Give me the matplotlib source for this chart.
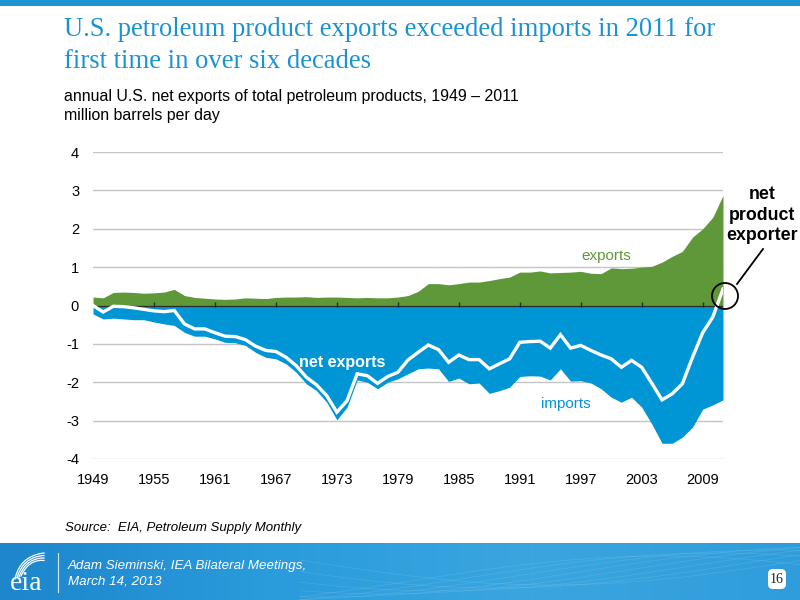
#!/usr/bin/env python
# -*- coding: utf-8 -*-

"""
U.S. petroleum product exports / imports / net exports, 1949-2011 (EIA slide).
"""

# Third party modules.
import numpy as np
import matplotlib
matplotlib.use("Agg")
import matplotlib.pyplot as plt
from matplotlib.patches import Ellipse, FancyBboxPatch, Rectangle
from matplotlib.lines import Line2D

# Globals and constants variables.
years = list(range(1949, 2012))

# million barrels per day
exports = [0.22, 0.20, 0.34, 0.35, 0.34, 0.32, 0.33, 0.35, 0.42, 0.26,
           0.21, 0.19, 0.17, 0.16, 0.17, 0.20, 0.19, 0.18, 0.21, 0.22,
           0.22, 0.23, 0.21, 0.22, 0.22, 0.21, 0.20, 0.21, 0.20, 0.20,
           0.22, 0.26, 0.37, 0.57, 0.57, 0.54, 0.57, 0.61, 0.61, 0.65,
           0.70, 0.74, 0.87, 0.87, 0.90, 0.85, 0.86, 0.87, 0.89, 0.84,
           0.83, 0.98, 0.96, 0.97, 1.00, 1.02, 1.13, 1.28, 1.41, 1.78,
           2.00, 2.30, 2.87]
imports = [0.22, 0.35, 0.33, 0.35, 0.37, 0.37, 0.43, 0.48, 0.52, 0.70,
           0.80, 0.80, 0.87, 0.96, 0.97, 1.04, 1.22, 1.35, 1.39, 1.52,
           1.74, 2.04, 2.22, 2.52, 2.98, 2.65, 1.94, 2.00, 2.17, 2.00,
           1.91, 1.78, 1.65, 1.63, 1.65, 1.98, 1.89, 2.04, 2.02, 2.29,
           2.22, 2.13, 1.85, 1.83, 1.84, 1.94, 1.65, 1.97, 1.96, 2.02,
           2.17, 2.39, 2.52, 2.39, 2.65, 3.09, 3.59, 3.59, 3.43, 3.17,
           2.70, 2.59, 2.46]
net_exports = [0.00, -0.17, -0.02, -0.03, -0.06, -0.10, -0.14, -0.16, -0.13, -0.48,
               -0.61, -0.61, -0.71, -0.80, -0.81, -0.89, -1.06, -1.17, -1.20, -1.35,
               -1.57, -1.87, -2.07, -2.35, -2.78, -2.48, -1.78, -1.83, -2.03, -1.85,
               -1.74, -1.42, -1.22, -1.03, -1.15, -1.48, -1.29, -1.41, -1.41, -1.65,
               -1.52, -1.39, -0.96, -0.94, -0.93, -1.11, -0.76, -1.11, -1.04, -1.17,
               -1.29, -1.39, -1.61, -1.43, -1.61, -2.03, -2.46, -2.30, -2.04, -1.35,
               -0.71, -0.30, 0.43]

tick_years = list(range(1949, 2012, 6))
y_ticks = [-4, -3, -2, -1, 0, 1, 2, 3, 4]

GREEN = "#5e9838"
BLUE = "#0096d6"
TITLE_BLUE = "#1b93d2"
SANS = ["Liberation Sans", "DejaVu Sans"]
SERIF = ["Liberation Serif", "DejaVu Serif"]

W, H = 800, 600


def fx(px):
    return px / W


def fy(py):
    return 1 - py / H


def draw_frame(fig):
    # background axes for slide decorations, pixel coordinates
    bg = fig.add_axes([0, 0, 1, 1], zorder=-5)

    # top strip
    bg.add_patch(Rectangle((0, 0), W, 6, color="#1a95d4", lw=0))

    # footer band with a horizontal gradient
    grad = np.linspace(0, 1, 256).reshape(1, -1)
    cmap = matplotlib.colors.LinearSegmentedColormap.from_list(
        "band", ["#1d86cc", "#2a9bdb", "#3aa6e0", "#2f9ddc"])
    bg.imshow(grad, extent=(0, W, 600, 543), aspect="auto", cmap=cmap, zorder=0)
    # faint wave lines in the band
    xs = np.linspace(300, 800, 200)
    for k in range(8):
        ys = 560 + 25 * np.sin((xs - 300) / 160 + k * 0.35) + k * 3
        bg.plot(xs, ys, color="white", lw=0.5, alpha=0.12, zorder=1)

    # logo: swoosh lines over "eia"
    t = np.linspace(0, 1, 30)
    for k in range(4):
        x0, y0 = 15 + 2 * k, 579 - k
        x1, y1 = 44, 553 + 2.5 * k
        xc, yc = 20 + 3 * k, 556 + k
        cx = (1 - t) ** 2 * x0 + 2 * (1 - t) * t * xc + t ** 2 * x1
        cy = (1 - t) ** 2 * y0 + 2 * (1 - t) * t * yc + t ** 2 * y1
        bg.plot(cx, cy, color="white", lw=0.9, zorder=2)
    bg.text(26, 590, "eia", color="white", family=SERIF, fontsize=20,
            ha="center", va="baseline", zorder=2)
    bg.plot([58, 58], [553, 592], color="white", lw=0.8, alpha=0.8, zorder=2)

    bg.text(68, 566, "Adam Sieminski, IEA Bilateral Meetings,", color="white",
            family=SANS, style="italic", fontsize=9.6, va="center", zorder=2)
    bg.text(68, 582, "March 14, 2013", color="white",
            family=SANS, style="italic", fontsize=9.6, va="center", zorder=2)

    # page number
    bg.add_patch(FancyBboxPatch((768, 569), 18, 20, boxstyle="round,pad=0,rounding_size=5",
                                fc="white", ec="none", zorder=2))
    bg.text(777, 579.5, "16", color="#222222", family=SERIF, fontsize=10,
            ha="center", va="center", zorder=3)

    bg.set_xlim(0, W)
    bg.set_ylim(H, 0)
    bg.axis("off")


def run():
    fig = plt.figure(figsize=(8, 6), dpi=100)
    draw_frame(fig)

    fig.text(fx(64), fy(36), "U.S. petroleum product exports exceeded imports in 2011 for",
             color=TITLE_BLUE, family=SERIF, fontsize=19.2, va="baseline")
    fig.text(fx(64), fy(68), "first time in over six decades",
             color=TITLE_BLUE, family=SERIF, fontsize=19.2, va="baseline")
    fig.text(fx(64), fy(101), "annual U.S. net exports of total petroleum products, 1949 \u2013 2011",
             color="black", family=SANS, fontsize=11.4, va="baseline")
    fig.text(fx(64), fy(120), "million barrels per day",
             color="black", family=SANS, fontsize=11.4, va="baseline")
    fig.text(fx(65), fy(528), "Source:  EIA, Petroleum Supply Monthly",
             color="black", family=SANS, style="italic", fontsize=9.5, va="center")

    ax = fig.add_axes([fx(93), fy(459), 630 / W, 307 / H])
    ax.set_xlim(years[0], years[-1])
    ax.set_ylim(-4, 4)

    for y in y_ticks:
        if y != 0:
            ax.axhline(y, color="#c4c4c4", lw=1, zorder=0)

    ax.fill_between(years, 0, exports, color=GREEN, lw=0, zorder=2)
    ax.fill_between(years, 0, -np.array(imports), color=BLUE, lw=0, zorder=2)
    ax.axhline(0, color="#2b2b2b", lw=0.9, zorder=3)
    ax.vlines(tick_years[1:], -0.05, 0.08, color="#2b2b2b", lw=1, zorder=3)
    ax.plot(years, net_exports, color="white", lw=2.4, zorder=4,
            solid_joinstyle="miter")

    for s in ax.spines.values():
        s.set_visible(False)
    ax.set_xticks(tick_years)
    ax.set_xticklabels([str(t) for t in tick_years], family=SANS, fontsize=10.5)
    ax.set_yticks(y_ticks)
    ax.set_yticklabels([str(t) for t in y_ticks], family=SANS, fontsize=10.5)
    ax.tick_params(axis="both", length=0, colors="black")
    ax.tick_params(axis="x", pad=10)
    ax.tick_params(axis="y", pad=10)

    ax.text(1999.5, 1.28, "exports", color=GREEN, family=SANS, fontsize=11,
            ha="center", va="center")
    ax.text(1995.5, -2.56, "imports", color=BLUE, family=SANS, fontsize=11,
            ha="center", va="center")
    ax.text(1973.5, -1.48, "net exports", color="white", family=SANS, fontsize=11.5,
            fontweight="bold", ha="center", va="center")

    # annotation
    fig.add_artist(Ellipse((fx(725), fy(296)), 26 / W, 26 / H, fill=False,
                           ec="black", lw=1.3, transform=fig.transFigure))
    fig.add_artist(Line2D([fx(737), fx(763)], [fy(284), fy(249)], color="black",
                          lw=1.3, transform=fig.transFigure))
    fig.text(fx(762), fy(215), "net\nproduct\nexporter", color="black", family=SANS,
             fontsize=12.8, fontweight="bold", ha="center", va="center", linespacing=1.3)

    fig.savefig("out.png", dpi=100)


def main():
    run()


if __name__ == '__main__':  # pragma: no cover
    main()
